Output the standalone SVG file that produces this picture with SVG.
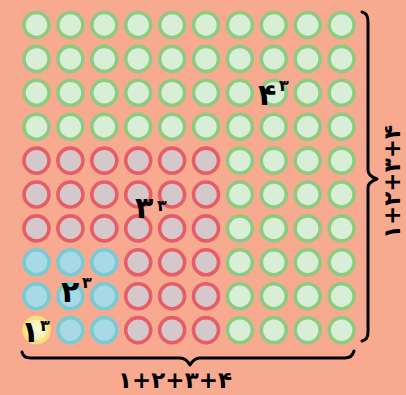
<svg xmlns="http://www.w3.org/2000/svg" width="406" height="395" viewBox="0 0 406 395">
<style>
.g{fill:#D8EED7;stroke:#8ECB80;stroke-width:3.6}
.r{fill:#D5C8CB;stroke:#E65D68;stroke-width:3.6}
.b{fill:#A8DAE6;stroke:#7ACAD2;stroke-width:3.6}
.y{fill:url(#yg);stroke:#F3E07C;stroke-width:3.6}
.t{font-family:"DejaVu Sans",sans-serif;font-weight:bold;fill:#000}
.m{font-size:30px}
.s{font-size:16px}
.l{font-size:23px}
.br{fill:none;stroke:#000;stroke-width:3;stroke-linecap:round;stroke-linejoin:round}
</style>
<defs>
<radialGradient id="yg" cx="0.55" cy="0.45" r="0.6">
<stop offset="0" stop-color="#FCF6D8"/>
<stop offset="0.6" stop-color="#F8EFB8"/>
<stop offset="1" stop-color="#F2E27C"/>
</radialGradient>
</defs>
<rect width="406" height="395" fill="#F8AA91"/>
<g id="green">
<circle class="g" cx="36.5" cy="25" r="12.5"/><circle class="g" cx="70.4" cy="25" r="12.5"/><circle class="g" cx="104.3" cy="25" r="12.5"/><circle class="g" cx="138.2" cy="25" r="12.5"/><circle class="g" cx="172.1" cy="25" r="12.5"/><circle class="g" cx="206" cy="25" r="12.5"/><circle class="g" cx="239.9" cy="25" r="12.5"/><circle class="g" cx="273.8" cy="25" r="12.5"/><circle class="g" cx="307.7" cy="25" r="12.5"/><circle class="g" cx="341.6" cy="25" r="12.5"/>
<circle class="g" cx="36.5" cy="58.9" r="12.5"/><circle class="g" cx="70.4" cy="58.9" r="12.5"/><circle class="g" cx="104.3" cy="58.9" r="12.5"/><circle class="g" cx="138.2" cy="58.9" r="12.5"/><circle class="g" cx="172.1" cy="58.9" r="12.5"/><circle class="g" cx="206" cy="58.9" r="12.5"/><circle class="g" cx="239.9" cy="58.9" r="12.5"/><circle class="g" cx="273.8" cy="58.9" r="12.5"/><circle class="g" cx="307.7" cy="58.9" r="12.5"/><circle class="g" cx="341.6" cy="58.9" r="12.5"/>
<circle class="g" cx="36.5" cy="92.8" r="12.5"/><circle class="g" cx="70.4" cy="92.8" r="12.5"/><circle class="g" cx="104.3" cy="92.8" r="12.5"/><circle class="g" cx="138.2" cy="92.8" r="12.5"/><circle class="g" cx="172.1" cy="92.8" r="12.5"/><circle class="g" cx="206" cy="92.8" r="12.5"/><circle class="g" cx="239.9" cy="92.8" r="12.5"/><circle class="g" cx="273.8" cy="92.8" r="12.5"/><circle class="g" cx="307.7" cy="92.8" r="12.5"/><circle class="g" cx="341.6" cy="92.8" r="12.5"/>
<circle class="g" cx="36.5" cy="126.7" r="12.5"/><circle class="g" cx="70.4" cy="126.7" r="12.5"/><circle class="g" cx="104.3" cy="126.7" r="12.5"/><circle class="g" cx="138.2" cy="126.7" r="12.5"/><circle class="g" cx="172.1" cy="126.7" r="12.5"/><circle class="g" cx="206" cy="126.7" r="12.5"/><circle class="g" cx="239.9" cy="126.7" r="12.5"/><circle class="g" cx="273.8" cy="126.7" r="12.5"/><circle class="g" cx="307.7" cy="126.7" r="12.5"/><circle class="g" cx="341.6" cy="126.7" r="12.5"/>
<circle class="g" cx="239.9" cy="160.6" r="12.5"/><circle class="g" cx="273.8" cy="160.6" r="12.5"/><circle class="g" cx="307.7" cy="160.6" r="12.5"/><circle class="g" cx="341.6" cy="160.6" r="12.5"/>
<circle class="g" cx="239.9" cy="194.5" r="12.5"/><circle class="g" cx="273.8" cy="194.5" r="12.5"/><circle class="g" cx="307.7" cy="194.5" r="12.5"/><circle class="g" cx="341.6" cy="194.5" r="12.5"/>
<circle class="g" cx="239.9" cy="228.4" r="12.5"/><circle class="g" cx="273.8" cy="228.4" r="12.5"/><circle class="g" cx="307.7" cy="228.4" r="12.5"/><circle class="g" cx="341.6" cy="228.4" r="12.5"/>
<circle class="g" cx="239.9" cy="262.3" r="12.5"/><circle class="g" cx="273.8" cy="262.3" r="12.5"/><circle class="g" cx="307.7" cy="262.3" r="12.5"/><circle class="g" cx="341.6" cy="262.3" r="12.5"/>
<circle class="g" cx="239.9" cy="296.2" r="12.5"/><circle class="g" cx="273.8" cy="296.2" r="12.5"/><circle class="g" cx="307.7" cy="296.2" r="12.5"/><circle class="g" cx="341.6" cy="296.2" r="12.5"/>
<circle class="g" cx="239.9" cy="330.1" r="12.5"/><circle class="g" cx="273.8" cy="330.1" r="12.5"/><circle class="g" cx="307.7" cy="330.1" r="12.5"/><circle class="g" cx="341.6" cy="330.1" r="12.5"/>
<text class="t m" x="258" y="105">۴</text><text class="t s" x="279" y="91">۳</text>
</g>
<g id="red">
<circle class="r" cx="36.5" cy="160.6" r="12.5"/><circle class="r" cx="70.4" cy="160.6" r="12.5"/><circle class="r" cx="104.3" cy="160.6" r="12.5"/><circle class="r" cx="138.2" cy="160.6" r="12.5"/><circle class="r" cx="172.1" cy="160.6" r="12.5"/><circle class="r" cx="206" cy="160.6" r="12.5"/>
<circle class="r" cx="36.5" cy="194.5" r="12.5"/><circle class="r" cx="70.4" cy="194.5" r="12.5"/><circle class="r" cx="104.3" cy="194.5" r="12.5"/><circle class="r" cx="138.2" cy="194.5" r="12.5"/><circle class="r" cx="172.1" cy="194.5" r="12.5"/><circle class="r" cx="206" cy="194.5" r="12.5"/>
<circle class="r" cx="36.5" cy="228.4" r="12.5"/><circle class="r" cx="70.4" cy="228.4" r="12.5"/><circle class="r" cx="104.3" cy="228.4" r="12.5"/><circle class="r" cx="138.2" cy="228.4" r="12.5"/><circle class="r" cx="172.1" cy="228.4" r="12.5"/><circle class="r" cx="206" cy="228.4" r="12.5"/>
<circle class="r" cx="138.2" cy="262.3" r="12.5"/><circle class="r" cx="172.1" cy="262.3" r="12.5"/><circle class="r" cx="206" cy="262.3" r="12.5"/>
<circle class="r" cx="138.2" cy="296.2" r="12.5"/><circle class="r" cx="172.1" cy="296.2" r="12.5"/><circle class="r" cx="206" cy="296.2" r="12.5"/>
<circle class="r" cx="138.2" cy="330.1" r="12.5"/><circle class="r" cx="172.1" cy="330.1" r="12.5"/><circle class="r" cx="206" cy="330.1" r="12.5"/>
<text class="t m" x="135" y="218">۳</text><text class="t s" x="157" y="211">۳</text>
</g>
<g id="blue">
<circle class="b" cx="36.5" cy="262.3" r="12.5"/><circle class="b" cx="70.4" cy="262.3" r="12.5"/><circle class="b" cx="104.3" cy="262.3" r="12.5"/>
<circle class="b" cx="36.5" cy="296.2" r="12.5"/><circle class="b" cx="70.4" cy="296.2" r="12.5"/><circle class="b" cx="104.3" cy="296.2" r="12.5"/>
<circle class="b" cx="70.4" cy="330.1" r="12.5"/><circle class="b" cx="104.3" cy="330.1" r="12.5"/>
<text class="t m" x="61" y="302">۲</text><text class="t s" x="82" y="288">۳</text>
</g>
<g id="yellow">
<circle class="y" cx="36.5" cy="330.1" r="12.5"/>
<text class="t m" x="21" y="342">۱</text><text class="t s" x="40" y="331">۳</text>
</g>
<g id="connectors">
<path class="br" d="M22,352 Q23,358 31,358 L180,358 Q186,358 190,365 Q194,358 200,358 L345,358 Q352,358 354,351"/>
<path class="br" d="M362,12 Q368,13 368,22 L368,170 Q368,176 377,179 Q368,182 368,188 L368,332 Q368,340 362,341"/>
</g>
<text class="t l" x="175" y="388" text-anchor="middle">۱+۲+۳+۴</text>
<text class="t l" x="0" y="0" text-anchor="middle" transform="translate(400,182) rotate(-90)">۱+۲+۳+۴</text>
</svg>
